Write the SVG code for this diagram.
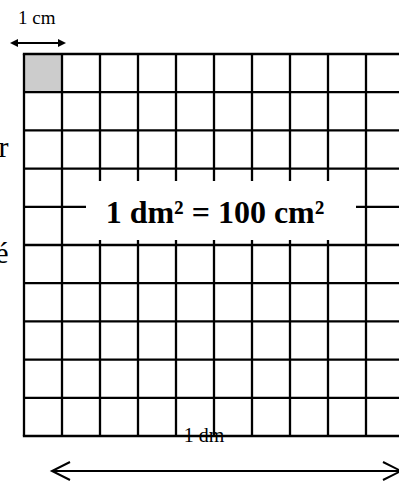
<svg xmlns="http://www.w3.org/2000/svg" width="399" height="482" viewBox="0 0 399 482">
<style>
.g{stroke:#000;stroke-width:2.3;fill:none}
.t{font-family:"Liberation Serif","Times New Roman",serif;fill:#000}
.c{stroke:#000;stroke-width:2;fill:none}
</style>
<defs>
<marker id="fh" viewBox="0 0 8 8" refX="0" refY="4" markerWidth="8" markerHeight="8" markerUnits="userSpaceOnUse" orient="auto-start-reverse">
<path d="M0,0 L8,4 L0,8 z" fill="#000"/>
</marker>
<marker id="oh" viewBox="-1 -1 20 20" refX="18" refY="9" markerWidth="20" markerHeight="20" markerUnits="userSpaceOnUse" orient="auto-start-reverse" overflow="visible">
<path d="M0,0 L18,9 L0,18" fill="none" stroke="#000" stroke-width="2"/>
</marker>
</defs>
<rect width="399" height="482" fill="#fff"/>
<g id="grid">
<rect x="24" y="54" width="38" height="38.2" fill="#cccccc"/>
<g class="g">
<line x1="24" y1="54" x2="24" y2="436"/>
<line x1="62" y1="54" x2="62" y2="436"/>
<line x1="100" y1="54" x2="100" y2="436"/>
<line x1="138" y1="54" x2="138" y2="436"/>
<line x1="176" y1="54" x2="176" y2="436"/>
<line x1="214" y1="54" x2="214" y2="436"/>
<line x1="252" y1="54" x2="252" y2="436"/>
<line x1="290" y1="54" x2="290" y2="436"/>
<line x1="328" y1="54" x2="328" y2="436"/>
<line x1="366" y1="54" x2="366" y2="436"/>
<line x1="404" y1="54" x2="404" y2="436"/>
<line x1="22.85" y1="54" x2="405" y2="54"/>
<line x1="24" y1="92.2" x2="405" y2="92.2"/>
<line x1="24" y1="130.4" x2="405" y2="130.4"/>
<line x1="24" y1="168.6" x2="405" y2="168.6"/>
<line x1="24" y1="206.8" x2="405" y2="206.8"/>
<line x1="24" y1="245" x2="405" y2="245"/>
<line x1="24" y1="283.2" x2="405" y2="283.2"/>
<line x1="24" y1="321.4" x2="405" y2="321.4"/>
<line x1="24" y1="359.6" x2="405" y2="359.6"/>
<line x1="24" y1="397.8" x2="405" y2="397.8"/>
<line x1="22.85" y1="436" x2="405" y2="436"/>
</g>
</g>
<g id="label-box">
<rect x="86" y="181" width="270" height="59" fill="#fff"/>
<text class="t" x="215" y="223" font-size="32" font-weight="bold" text-anchor="middle">1 dm² = 100 cm²</text>
</g>
<g id="side-text">
<text class="t" x="8.5" y="157" font-size="30" text-anchor="end">r</text>
<text class="t" x="8.5" y="263" font-size="30" text-anchor="end">é</text>
</g>
<g id="label-cm">
<text class="t" x="18" y="24" font-size="19">1 cm</text>
</g>
<g id="label-dm">
<text class="t" x="204" y="442" font-size="20" text-anchor="middle">1 dm</text>
</g>
<g id="connectors">
<line class="c" x1="18" y1="43" x2="58" y2="43" marker-start="url(#fh)" marker-end="url(#fh)"/>
<line class="c" x1="52" y1="471" x2="401" y2="471" marker-start="url(#oh)" marker-end="url(#oh)"/>
</g>
</svg>
